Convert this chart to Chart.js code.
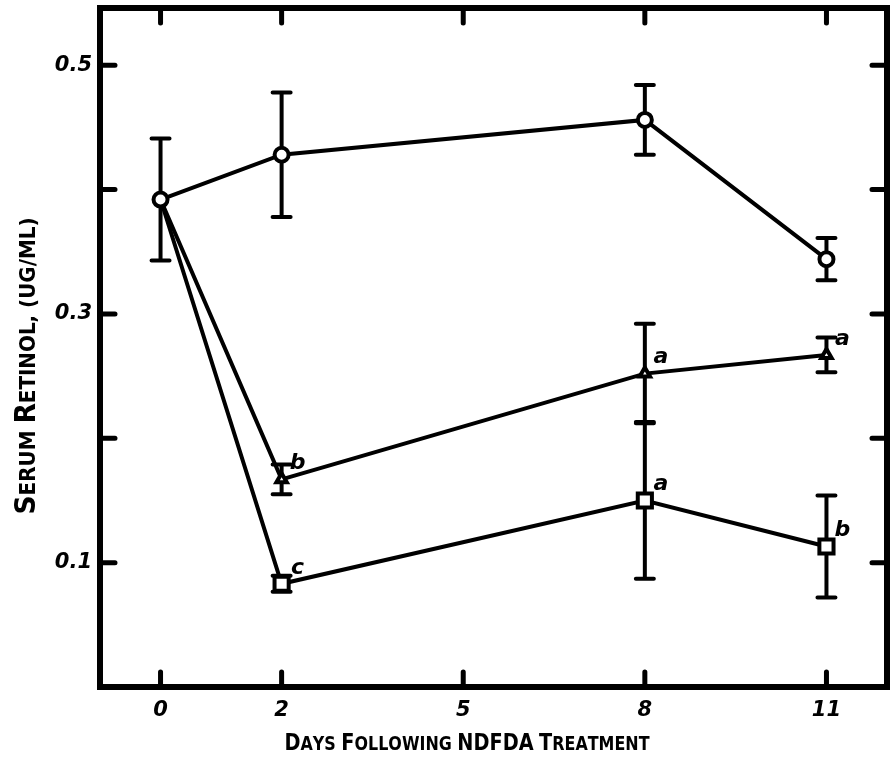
<!DOCTYPE html>
<html>
<head>
<meta charset="utf-8">
<script src="https://cdn.jsdelivr.net/npm/chart.js@4/dist/chart.umd.min.js"></script>
<style>
  html, body { margin: 0; padding: 0; background: #fff; }
  #wrap { width: 890px; height: 765px; position: relative; }
</style>
</head>
<body>
<div id="wrap"><canvas id="c" width="890" height="765"></canvas></div>
<script>
// Days after treatment at which serum retinol was measured
const days = [0, 2, 8, 11];

// Control group (open circles): mean and error half-width
const controlMean = [0.392, 0.428, 0.456, 0.344];
const controlErr  = [0.049, 0.050, 0.028, 0.017];

// Treated group (open triangles)
const triangleMean = [0.392, 0.167, 0.252, 0.267];
const triangleErr  = [0, 0.012, 0.040, 0.014];
const triangleMarks = ['', 'b', 'a', 'a'];

// Treated group (open squares)
const squareMean = [0.392, 0.083, 0.150, 0.113];
const squareErr  = [0, 0.0065, 0.063, 0.041];
const squareMarks = ['', 'c', 'a', 'b'];

// Axis ticks
const xTickValues = [0, 2, 5, 8, 11];
const yTickValues = [0.1, 0.2, 0.3, 0.4, 0.5];
const yTickLabels = ['0.1', '', '0.3', '', '0.5'];

const xTitle = 'Days Following NDFDA Treatment';
const yTitle = 'Serum Retinol, (ug/ml)';

const toPoints = ys => days.map((d, i) => ({ x: d, y: ys[i] }));

const groups = [
  { mean: controlMean,  err: controlErr,  marks: [] },
  { mean: triangleMean, err: triangleErr, marks: triangleMarks },
  { mean: squareMean,   err: squareErr,   marks: squareMarks }
];

const INK = '#000';
const TITLE_FONT = '"DejaVu Sans"';

// Draw text in small capitals (capitals large, other letters as smaller capitals),
// centred on the origin and narrowed to the given overall length
function drawSmallCaps(ctx, text, bigSize, smallSize, family, length) {
  const parts = [];
  for (const ch of text) {
    const size = (ch >= 'A' && ch <= 'Z') ? bigSize : smallSize;
    const font = 'bold ' + size + 'px ' + family;
    ctx.font = font;
    const up = ch.toUpperCase();
    parts.push({ ch: up, font, w: ctx.measureText(up).width });
  }
  const total = parts.reduce((s, p) => s + p.w, 0);
  ctx.scale(Math.min(1, length / total), 1);
  let x = -total / 2;
  ctx.textAlign = 'left';
  ctx.textBaseline = 'alphabetic';
  for (const p of parts) {
    ctx.font = p.font;
    ctx.fillText(p.ch, x, 0);
    x += p.w;
  }
}

// Heavy box around the plot with inward tick marks on all four sides
const framePlugin = {
  id: 'frame',
  beforeDatasetsDraw(chart) {
    const { ctx, chartArea: a, scales: { x, y } } = chart;
    ctx.save();
    ctx.strokeStyle = INK;
    ctx.lineWidth = 6;
    ctx.lineJoin = 'miter';
    ctx.strokeRect(a.left, a.top, a.right - a.left, a.bottom - a.top);
    ctx.lineWidth = 5;
    ctx.lineCap = 'round';
    const len = 15;
    for (const v of yTickValues) {
      const py = y.getPixelForValue(v);
      ctx.beginPath();
      ctx.moveTo(a.left, py); ctx.lineTo(a.left + len, py);
      ctx.moveTo(a.right, py); ctx.lineTo(a.right - len, py);
      ctx.stroke();
    }
    for (const v of xTickValues) {
      const px = x.getPixelForValue(v);
      ctx.beginPath();
      ctx.moveTo(px, a.bottom); ctx.lineTo(px, a.bottom - len);
      ctx.moveTo(px, a.top); ctx.lineTo(px, a.top + len);
      ctx.stroke();
    }
    ctx.restore();
  }
};

// Vertical error bars with short caps, drawn under the markers
const errorBarPlugin = {
  id: 'errorBars',
  beforeDatasetsDraw(chart) {
    const { ctx, scales: { x, y } } = chart;
    ctx.save();
    ctx.strokeStyle = INK;
    ctx.lineWidth = 4;
    const cap = 9;
    groups.forEach(g => {
      days.forEach((d, i) => {
        const e = g.err[i];
        if (!e) return;
        const px = x.getPixelForValue(d);
        const top = y.getPixelForValue(g.mean[i] + e);
        const bot = y.getPixelForValue(g.mean[i] - e);
        ctx.lineCap = 'butt';
        ctx.beginPath();
        ctx.moveTo(px, top); ctx.lineTo(px, bot);
        ctx.stroke();
        ctx.lineCap = 'round';
        ctx.beginPath();
        ctx.moveTo(px - cap, top); ctx.lineTo(px + cap, top);
        ctx.moveTo(px - cap, bot); ctx.lineTo(px + cap, bot);
        ctx.stroke();
      });
    });
    ctx.restore();
  }
};

// Significance letters beside the treated-group points
const markPlugin = {
  id: 'marks',
  afterDatasetsDraw(chart) {
    const { ctx, scales: { x, y } } = chart;
    ctx.save();
    ctx.fillStyle = INK;
    ctx.font = 'italic bold 22px "DejaVu Sans"';
    ctx.textAlign = 'center';
    ctx.textBaseline = 'middle';
    groups.forEach(g => {
      g.marks.forEach((m, i) => {
        if (!m) return;
        ctx.fillText(m, x.getPixelForValue(days[i]) + 16, y.getPixelForValue(g.mean[i]) - 16);
      });
    });
    ctx.restore();
  }
};

// Axis titles set in small capitals
const titlePlugin = {
  id: 'axisTitles',
  afterDraw(chart) {
    const { ctx } = chart;
    ctx.save();
    ctx.fillStyle = INK;
    ctx.translate(467, 750);
    drawSmallCaps(ctx, xTitle, 23, 19, TITLE_FONT, 365);
    ctx.restore();
    ctx.save();
    ctx.fillStyle = INK;
    ctx.translate(35, 366);
    ctx.rotate(-Math.PI / 2);
    drawSmallCaps(ctx, yTitle, 28, 21, TITLE_FONT, 297);
    ctx.restore();
  }
};

const lineStyle = {
  borderColor: INK,
  borderWidth: 4,
  pointBackgroundColor: '#fff',
  pointBorderColor: INK,
  pointBorderWidth: 4,
  tension: 0,
  fill: false
};

const tickFont = { family: '"DejaVu Sans"', size: 21, style: 'italic', weight: 'bold' };

// Keep the plot box fixed: no extra room reserved for overhanging tick labels
const noLabelPadding = s => {
  s.paddingTop = 0; s.paddingBottom = 0; s.paddingLeft = 0; s.paddingRight = 0;
};

new Chart(document.getElementById('c'), {
  type: 'line',
  data: {
    datasets: [
      Object.assign({ label: 'Control', data: toPoints(controlMean), pointStyle: 'circle', pointRadius: 7 }, lineStyle),
      Object.assign({ label: 'Triangle group', data: toPoints(triangleMean), pointStyle: 'triangle', pointRadius: [0, 6, 6, 6] }, lineStyle),
      Object.assign({ label: 'Square group', data: toPoints(squareMean), pointStyle: 'rect', pointRadius: [0, 10, 10, 10] }, lineStyle)
    ]
  },
  options: {
    responsive: false,
    animation: false,
    devicePixelRatio: 1,
    layout: { autoPadding: false, padding: { top: 8, right: 3, bottom: 0, left: 0 } },
    plugins: { legend: { display: false }, tooltip: { enabled: false } },
    scales: {
      x: {
        type: 'linear',
        min: -1,
        max: 12,
        grid: { display: false, drawTicks: false },
        border: { display: false },
        afterBuildTicks: s => { s.ticks = xTickValues.map(v => ({ value: v })); },
        afterFit: s => { s.height = 78; noLabelPadding(s); },
        ticks: { color: INK, font: tickFont, padding: 11, autoSkip: false, maxRotation: 0, callback: v => String(v) }
      },
      y: {
        type: 'linear',
        min: 0,
        max: 0.546,
        grid: { display: false, drawTicks: false },
        border: { display: false },
        afterBuildTicks: s => { s.ticks = yTickValues.map(v => ({ value: v })); },
        afterFit: s => { s.width = 100; noLabelPadding(s); },
        ticks: { color: INK, font: tickFont, padding: 8, autoSkip: false, callback: (v, i) => yTickLabels[i] }
      }
    }
  },
  plugins: [framePlugin, errorBarPlugin, markPlugin, titlePlugin]
});
</script>
</body>
</html>
